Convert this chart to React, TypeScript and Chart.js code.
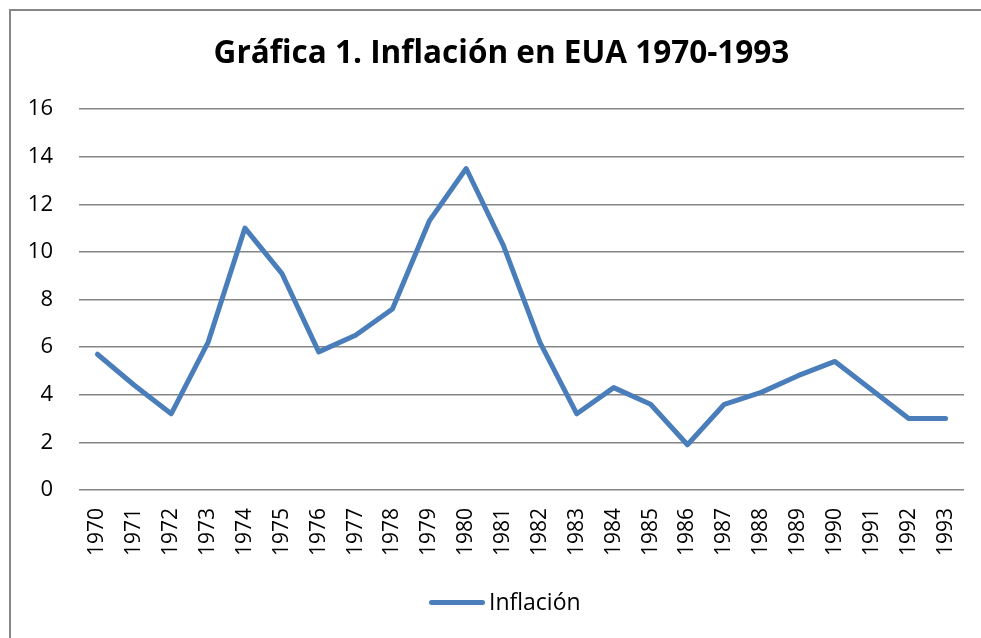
import React, { useEffect, useRef } from "react";
import { Chart, registerables } from "chart.js";

Chart.register(...registerables);

const years = [
  "1970", "1971", "1972", "1973", "1974", "1975", "1976", "1977", "1978", "1979",
  "1980", "1981", "1982", "1983", "1984", "1985", "1986", "1987", "1988", "1989",
  "1990", "1991", "1992", "1993",
];
const inflation = [
  5.7, 4.4, 3.2, 6.2, 11.0, 9.1, 5.8, 6.5, 7.6, 11.3,
  13.5, 10.3, 6.2, 3.2, 4.3, 3.6, 1.9, 3.6, 4.1, 4.8,
  5.4, 4.2, 3.0, 3.0,
];
const seriesLabel = "Inflación";
const chartTitle = "Gráfica 1. Inflación en EUA 1970-1993";
const yMin = 0;
const yMax = 16;
const yStep = 2;

const LINE = "#4A7EBB";
const GRID = "#868686";
const FONT = "'Open Sans'";

const framePlugin = {
  id: "frameTitleLegend",
  beforeDraw(chart: any) {
    const ctx = chart.ctx;
    ctx.save();
    ctx.fillStyle = "#ffffff";
    ctx.fillRect(0, 0, chart.width, chart.height);
    ctx.strokeStyle = GRID;
    ctx.lineWidth = 2;
    ctx.strokeRect(10, 10, 1200, 1200);
    ctx.restore();
  },
  afterDraw(chart: any) {
    const ctx = chart.ctx;
    ctx.save();
    // title
    ctx.fillStyle = "#000";
    ctx.font = `bold 31.5px ${FONT}`;
    ctx.textAlign = "center";
    ctx.textBaseline = "alphabetic";
    ctx.fillText(chartTitle, 501.5, 63);
    // legend
    const ds = chart.data.datasets[0];
    ctx.strokeStyle = ds.borderColor;
    ctx.lineWidth = ds.borderWidth;
    ctx.lineCap = "round";
    ctx.beginPath();
    ctx.moveTo(431.5, 602.5);
    ctx.lineTo(482.5, 602.5);
    ctx.stroke();
    ctx.fillStyle = "#000";
    ctx.font = `23px ${FONT}`;
    ctx.textAlign = "left";
    ctx.fillText(ds.label, 489, 610);
    ctx.restore();
  },
};

export default function App() {
  const ref = useRef<HTMLCanvasElement | null>(null);
  useEffect(() => {
    if (!ref.current) return;
    const chart = new Chart(ref.current, {
      type: "line",
      data: {
        labels: years,
        datasets: [
          {
            label: seriesLabel,
            data: inflation,
            borderColor: LINE,
            backgroundColor: LINE,
            borderWidth: 5,
            pointRadius: 0,
            pointHoverRadius: 0,
            tension: 0,
            borderJoinStyle: "round",
            borderCapStyle: "round",
            fill: false,
          },
        ],
      },
      options: {
        responsive: false,
        animation: false,
        events: [],
        layout: { padding: { left: 20, right: 17, top: 109, bottom: 56 } },
        scales: {
          x: {
            offset: true,
            grid: { display: false, drawTicks: false },
            border: { display: false },
            ticks: {
              minRotation: 90,
              maxRotation: 90,
              autoSkip: false,
              padding: 18,
              color: "#000",
              font: { family: FONT, size: 21 },
            },
            afterFit(scale: any) {
              scale.height = 92;
              scale.paddingLeft = 0;
              scale.paddingRight = 0;
            },
          },
          y: {
            min: yMin,
            max: yMax,
            grid: { color: GRID, lineWidth: 1.4, drawTicks: false },
            border: { display: false },
            ticks: {
              stepSize: yStep,
              padding: 26,
              color: "#000",
              font: { family: FONT, size: 22 },
            },
            afterFit(scale: any) {
              scale.width = 59;
              scale.paddingTop = 0;
              scale.paddingBottom = 0;
            },
          },
        },
        plugins: {
          title: { display: false },
          legend: { display: false },
          tooltip: { enabled: false },
        },
      },
      plugins: [framePlugin],
    });
    return () => chart.destroy();
  }, []);
  return (
    <canvas
      ref={ref}
      width={981}
      height={638}
      style={{ position: "fixed", left: 0, top: 0, display: "block" }}
    />
  );
}
